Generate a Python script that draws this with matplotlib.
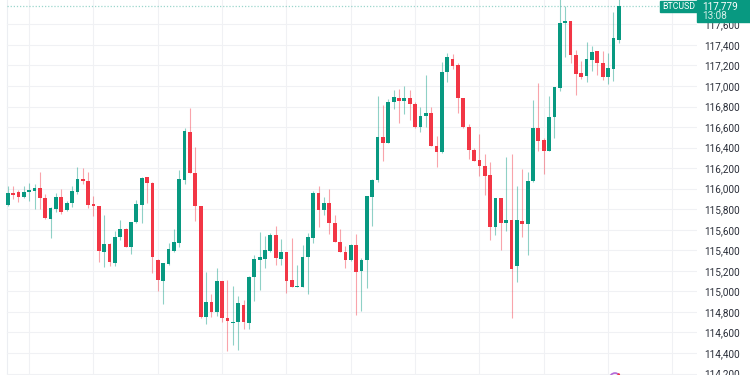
import numpy as np
import matplotlib
matplotlib.use("Agg")
import matplotlib.pyplot as plt
from matplotlib.ticker import FuncFormatter, FixedLocator
from matplotlib.patches import Rectangle, Ellipse

# BTCUSD candles (open, high, low, close), oldest first
opens = [115841, 115955, 115968, 115922, 115970, 115980, 116006, 115909, 115705, 115799,
         115919, 115789, 115857, 115970, 116094, 116077, 115848, 115828, 115380, 115458,
         115279, 115526, 115604, 115435, 115675, 115841, 116111, 116058, 115305, 115104,
         115264, 115396, 115468, 116084, 116552, 116155, 115831, 114747, 114899, 114799,
         115101, 114745, 114689, 114705, 114867, 114695, 115137, 115308, 115318, 115398,
         115552, 115318, 115383, 115111, 115045, 115045, 115330, 115524, 115955, 115792,
         115857, 115669, 115484, 115386, 115305, 115447, 115198, 115302, 115922, 116080,
         116506, 116448, 116847, 116880, 116850, 116880, 116827, 116597, 116705, 116735,
         116418, 116354, 117139, 117260, 117200, 116880, 116600, 116376, 116275, 116224,
         116130, 115630, 115906, 115663, 115695, 115247, 115688, 115656, 116075, 116588,
         116474, 116370, 116695, 116977, 117610, 117630, 117301, 117123, 117097, 117253,
         117340, 117226, 117090, 117165, 117448]
highs = [116029, 116029, 115987, 116026, 116052, 116045, 116159, 115950, 115824, 115955,
         115997, 115880, 116026, 116208, 116198, 116165, 115931, 115831, 115744, 115468,
         115588, 115695, 115614, 115678, 115890, 116116, 116116, 116062, 115312, 115279,
         115468, 115604, 116182, 116588, 116783, 116409, 115836, 115191, 114977, 115225,
         115106, 115114, 115054, 114952, 114916, 115145, 115354, 115578, 115541, 115565,
         115636, 115510, 115386, 115524, 115254, 115449, 115565, 115977, 116026, 115916,
         115994, 115744, 115607, 115439, 115463, 115557, 115325, 115929, 116090, 116902,
         116815, 116870, 116961, 116970, 116999, 116958, 116847, 116798, 117107, 116792,
         116513, 117236, 117324, 117311, 117226, 116883, 116630, 116393, 116532, 116338,
         116263, 115910, 115910, 116305, 116338, 116026, 116191, 116159, 116863, 117026,
         116490, 116905, 116990, 117880, 117779, 117632, 117350, 117243, 117425, 117389,
         117345, 117340, 117318, 117723, 117870]
lows = [115834, 115896, 115873, 115909, 115880, 115799, 115799, 115705, 115517, 115776,
        115756, 115782, 115821, 115948, 116045, 115815, 115734, 115289, 115237, 115250,
        115250, 115500, 115429, 115364, 115669, 115663, 115863, 115182, 115006, 114877,
        115257, 115386, 115435, 116042, 116150, 115688, 114745, 114687, 114753, 114765,
        114705, 114422, 114478, 114426, 114634, 114634, 114906, 115016, 115227, 115383,
        115254, 115257, 114989, 115040, 115040, 115040, 114979, 115468, 115627, 115744,
        115559, 115478, 115383, 115230, 115300, 114773, 114811, 115033, 115639, 116068,
        116269, 116445, 116776, 116642, 116730, 116671, 116594, 116555, 116597, 116415,
        116208, 116350, 117041, 117162, 116734, 116594, 116286, 116269, 116123, 115938,
        115500, 115549, 115403, 115591, 114738, 115094, 115532, 115354, 116068, 116370,
        116140, 116365, 116490, 116954, 117279, 117221, 116912, 117068, 117041, 117149,
        117107, 117058, 117019, 117051, 117421]
closes = [115955, 115935, 115922, 115970, 115987, 116006, 115906, 115711, 115809, 115919,
          115776, 115860, 115980, 116094, 116075, 115841, 115828, 115393, 115458, 115283,
          115532, 115604, 115435, 115672, 115851, 116101, 116052, 115332, 115111, 115273,
          115410, 115484, 116091, 116562, 116155, 115831, 114747, 114901, 114799, 115101,
          114745, 114711, 114705, 114884, 114699, 115142, 115313, 115335, 115403, 115552,
          115322, 115386, 115098, 115045, 115052, 115330, 115526, 115955, 115792, 115857,
          115669, 115484, 115386, 115305, 115447, 115193, 115302, 115924, 116084, 116506,
          116448, 116847, 116895, 116856, 116880, 116827, 116597, 116708, 116740, 116418,
          116354, 117139, 117279, 117194, 116880, 116597, 116376, 116272, 116221, 116123,
          115630, 115906, 115663, 115695, 115215, 115695, 115656, 116077, 116588, 116467,
          116370, 116695, 116987, 117616, 117630, 117301, 117116, 117090, 117260, 117334,
          117221, 117090, 117172, 117464, 117779]

price_ticks = list(range(114200, 117601, 200))
symbol = "BTCUSD"
last_price = closes[-1]
countdown = "13:08"

UP = "#089981"
DOWN = "#f23645"

fig = plt.figure(figsize=(7.5, 3.75), dpi=100)
ax = fig.add_axes([0, 0, 697 / 750, 1])

n = len(closes)
x = np.arange(n)
o = np.array(opens)
c = np.array(closes)
col = np.where(c >= o, UP, DOWN)

# grid (pane starts a few pixels in from the left edge)
ax.axvline(-0.22, color="#eceef2", lw=0.8, zorder=0)
for gx in range(4, 130, 12):
    ax.axvline(gx, color="#f0f1f4", lw=0.8, zorder=0)
for gy in price_ticks:
    ax.axhline(gy, xmin=0.0095, color="#f0f1f4", lw=0.8, zorder=0)

# wicks
ax.vlines(x, lows, highs, colors=col, lw=0.8, alpha=0.45, zorder=2)
# bodies
bottom = np.minimum(o, c)
height = np.maximum(np.abs(c - o), 8)
ax.bar(x, height, bottom=bottom, width=0.7, color=col, lw=0, zorder=3)

# last price line
ax.axhline(last_price, xmin=0.0095, color=UP, lw=0.9, ls=(0, (1, 1.5)), alpha=0.4, zorder=1)

# event marker peeking in at the bottom
ax.add_patch(Ellipse((113.3, 114150), 2.0, 110, fill=False, ec="#b36ad8", lw=1.2, zorder=4))
ax.add_patch(Ellipse((114.0, 114190), 0.5, 25, color=DOWN, lw=0, zorder=5))

ax.set_xlim(-1.44, 128.6)
ax.set_ylim(114186, 117837)
for s in ax.spines.values():
    s.set_visible(False)
ax.set_xticks([])
ax.yaxis.tick_right()
ax.yaxis.set_major_locator(FixedLocator(price_ticks))
ax.yaxis.set_major_formatter(FuncFormatter(lambda v, p: f"{v:,.0f}"))
ax.tick_params(axis="y", length=0, pad=5, labelsize=7.2, labelcolor="#2a2e39")
for t in ax.get_yticklabels():
    t.set_family("Roboto")

# price tag on the axis
fig.patches.append(Rectangle((697 / 750, 1 - 22 / 375), 53 / 750, 22 / 375,
                             transform=fig.transFigure, color=UP, zorder=5))
fig.text(702 / 750, 1 - 6 / 375, f"{last_price:,.0f}", color="white", fontsize=7.2,
         family="Roboto", va="center", ha="left", zorder=6)
fig.text(702 / 750, 1 - 16 / 375, countdown, color="#d6f0ea", fontsize=7.2,
         family="Roboto", va="center", ha="left", zorder=6)
# symbol tag
fig.patches.append(Rectangle((660 / 750, 1 - 12 / 375), 37 / 750, 11 / 375,
                             transform=fig.transFigure, color=UP, zorder=5))
fig.text(678.5 / 750, 1 - 6.5 / 375, symbol, color="white", fontsize=6.3,
         family="Roboto", va="center", ha="center", zorder=6)

fig.savefig("out.png", dpi=100, facecolor="white")
